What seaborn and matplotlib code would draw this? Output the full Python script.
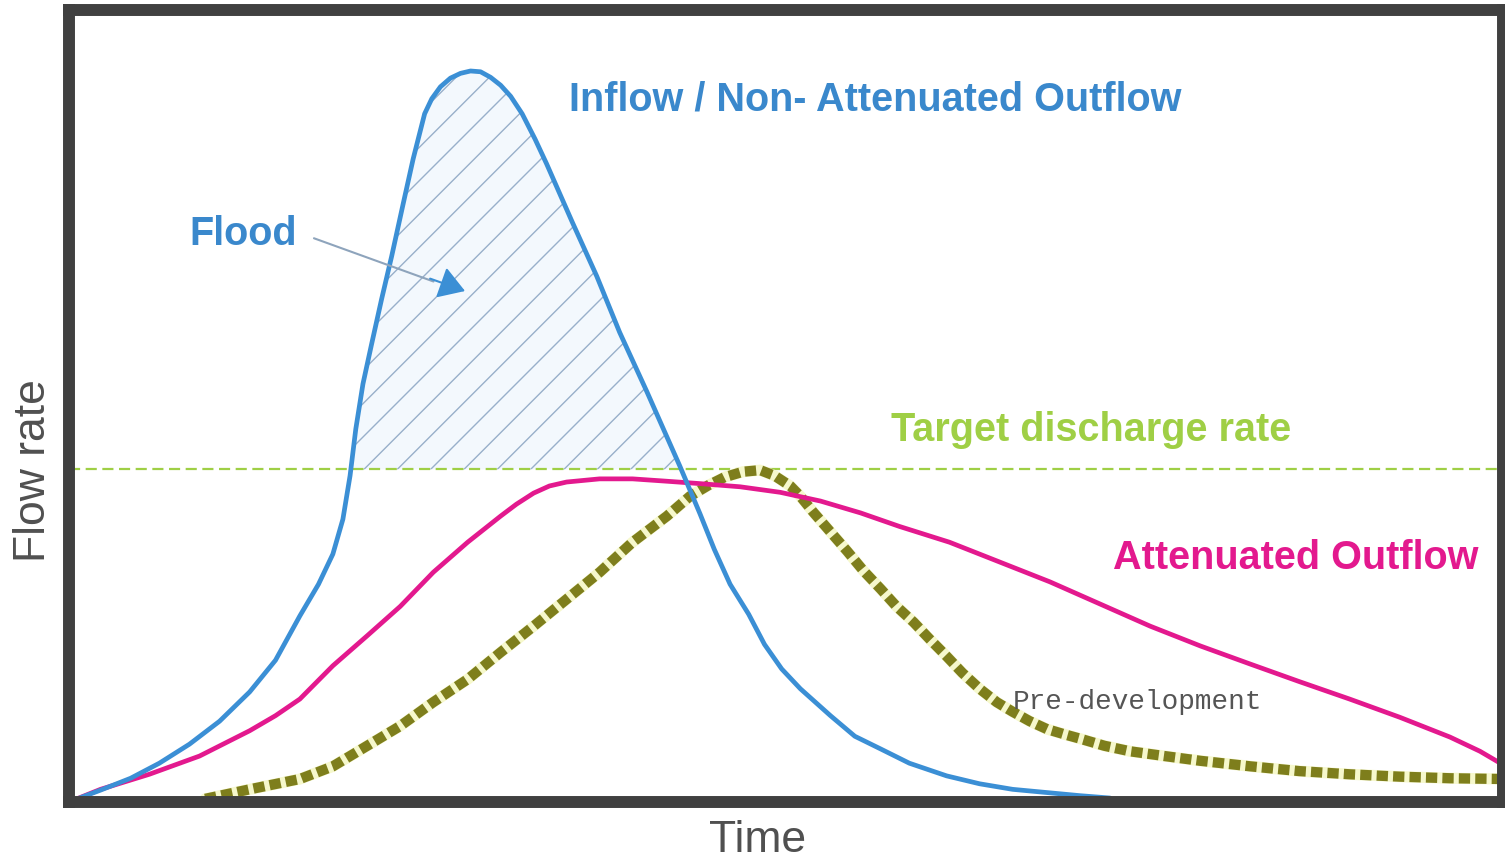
import seaborn as sns
import pandas as pd
import numpy as np
from matplotlib import pyplot as plt

# hydrograph values (time and flow on a 0-100 scale)
t_inflow = [0, 2.2, 4.3, 6.3, 8.4, 10.5, 12.6, 14.4, 16.1, 17.4, 18.4, 19.1, 19.6, 20.0,
            20.5, 21.1, 21.8, 22.5, 23.3, 24.0, 24.8, 25.3, 25.9, 26.6, 27.3, 28.0, 28.7,
            29.4, 30.1, 30.8, 31.6, 32.5, 33.3, 35.1, 36.8, 38.4, 40.3, 42.6, 44.0, 45.0,
            46.1, 47.4, 48.5, 49.7, 51.0, 53.1, 54.8, 56.6, 58.6, 61.2, 63.5, 65.8, 70.5,
            72.6]
q_inflow = [0, 1.5, 3.0, 4.9, 7.3, 10.2, 13.9, 17.9, 23.5, 27.5, 31.3, 35.7, 41.2, 47.1,
            52.8, 57.8, 63.5, 68.9, 75.5, 81.2, 86.9, 88.8, 90.3, 91.4, 92.0, 92.3, 92.2,
            91.5, 90.5, 89.1, 86.9, 83.7, 80.6, 73.2, 66.4, 59.3, 51.8, 42.4, 36.4, 31.9,
            27.5, 23.7, 19.9, 16.8, 14.3, 10.9, 8.3, 6.7, 4.9, 3.3, 2.3, 1.6, 0.8,
            0.5]

t_atten = [0, 2.2, 5.6, 9.1, 12.6, 14.4, 16.1, 18.4, 20.8, 23.1, 25.4, 27.8, 30.1, 31.2,
           32.4, 33.5, 34.7, 37.0, 39.3, 41.7, 44.0, 46.8, 49.6, 52.4, 55.2, 57.9, 61.4,
           64.9, 68.4, 71.9, 75.4, 78.9, 82.4, 85.8, 89.3, 92.8, 96.3, 98.4, 100.0]
q_atten = [0, 1.6, 3.5, 5.8, 9.0, 10.9, 13.0, 17.2, 21.0, 24.7, 29.0, 32.8, 36.1, 37.6,
           39.0, 39.9, 40.4, 40.8, 40.8, 40.5, 40.2, 39.8, 39.1, 38.0, 36.5, 34.8, 32.8,
           30.3, 27.8, 25.0, 22.2, 19.7, 17.4, 15.2, 13.0, 10.7, 8.2, 6.4, 4.7]

t_pre = [9.5, 12.6, 16.1, 18.4, 20.8, 23.1, 25.4, 27.8, 30.1, 32.4, 34.7, 37.0, 39.3, 41.7,
         43.3, 44.6, 45.7, 47.0, 48.2, 49.2, 50.3, 51.0, 51.9, 53.1, 54.3, 55.4, 56.6, 57.7,
         58.9, 60.0, 61.2, 62.3, 63.5, 64.7, 65.8, 67.0, 68.2, 69.5, 70.5, 72.2, 74.0, 76.4,
         78.9, 82.4, 85.8, 89.3, 92.8, 96.3, 100.1]
q_pre = [0.4, 1.6, 2.9, 4.5, 7.1, 9.6, 12.6, 15.5, 18.9, 22.2, 25.6, 29.0, 32.8, 36.1,
         38.6, 40.0, 41.0, 41.7, 41.9, 41.2, 39.9, 38.6, 36.6, 34.1, 31.6, 29.2, 26.9, 24.7,
         22.7, 20.6, 18.4, 16.3, 14.3, 12.6, 11.4, 10.2, 9.2, 8.5, 8.0, 7.1, 6.4, 5.8,
         5.2, 4.5, 3.9, 3.5, 3.2, 3.0, 2.9]

target_rate = 42.0

blue = '#3b8fd5'
pink = '#e3198e'
green = '#9fcf45'
olive = '#7e7e1c'

sns.set_style("white")
plt.rcParams['font.family'] = ['Liberation Sans', 'DejaVu Sans']
plt.rcParams['hatch.linewidth'] = 1.0

inflow = pd.DataFrame({'t': t_inflow, 'q': q_inflow})
atten = pd.DataFrame({'t': t_atten, 'q': q_atten})
pre = pd.DataFrame({'t': t_pre, 'q': q_pre})

fig = plt.figure(figsize=(15.05, 8.62), dpi=100)
ax = fig.add_axes([69 / 1505, 1 - 803 / 862, 1434 / 1505, 792 / 862])

# flood volume above the target rate
qi = np.array(q_inflow)
ax.fill_between(t_inflow, qi, target_rate, where=qi >= target_rate, interpolate=True,
                facecolor='#f3f8fd', edgecolor='#98afca', hatch='/', linewidth=0, zorder=1)

ax.axhline(target_rate, color=green, lw=1.6, dashes=(5, 2.5), zorder=1.5)

sns.lineplot(data=pre, x='t', y='q', ax=ax, sort=False, estimator=None,
             color='#f6f8cc', lw=8.0, zorder=2)
sns.lineplot(data=pre, x='t', y='q', ax=ax, sort=False, estimator=None,
             color=olive, lw=7.4, zorder=2.1)
ax.lines[-1].set_dashes((1.1, 0.5))
sns.lineplot(data=atten, x='t', y='q', ax=ax, sort=False, estimator=None,
             color=pink, lw=3.4, zorder=2.2)
sns.lineplot(data=inflow, x='t', y='q', ax=ax, sort=False, estimator=None,
             color=blue, lw=3.4, zorder=2.3)

ax.set_xlim(0, 100)
ax.set_ylim(0, 100)
ax.set_xticks([])
ax.set_yticks([])
for sp in ax.spines.values():
    sp.set_linewidth(8.6)
    sp.set_color('#404040')
    sp.set_zorder(3)

ax.set_xlabel('Time', fontsize=32, color='#505050', va='center')
ax.xaxis.set_label_coords(0.480, -0.047)
ax.set_ylabel('Flow rate', fontsize=32, color='#505050', va='center')
ax.yaxis.set_label_coords(-0.025, 0.42)

bold = dict(fontsize=28.5, fontweight='bold', va='center', ha='left')
ax.text(34.9, 88.8, 'Inflow / Non- Attenuated Outflow', color='#3a88cc', **bold)
ax.text(8.4, 71.8, 'Flood', color='#3a88cc', **bold)
ax.text(57.3, 47.1, 'Target discharge rate', color=green, **bold)
ax.text(72.8, 30.9, 'Attenuated Outflow', color=pink, **bold)
ax.text(65.8, 12.8, 'Pre-development', color='#555555', fontsize=20,
        family=['Liberation Mono', 'DejaVu Sans Mono'], va='center', ha='left')

# arrow pointing at the flood volume
ax.annotate('', xy=(25.6, 65.6), xytext=(16.9, 71.3),
            arrowprops=dict(arrowstyle='-', color='#8ea4bc', lw=1.5))
ax.annotate('', xy=(27.8, 64.4), xytext=(25.0, 66.2),
            arrowprops=dict(arrowstyle='-|>,head_length=1.6,head_width=1.0',
                            color=blue, lw=1.5))

fig.savefig('out.png', dpi=100)
